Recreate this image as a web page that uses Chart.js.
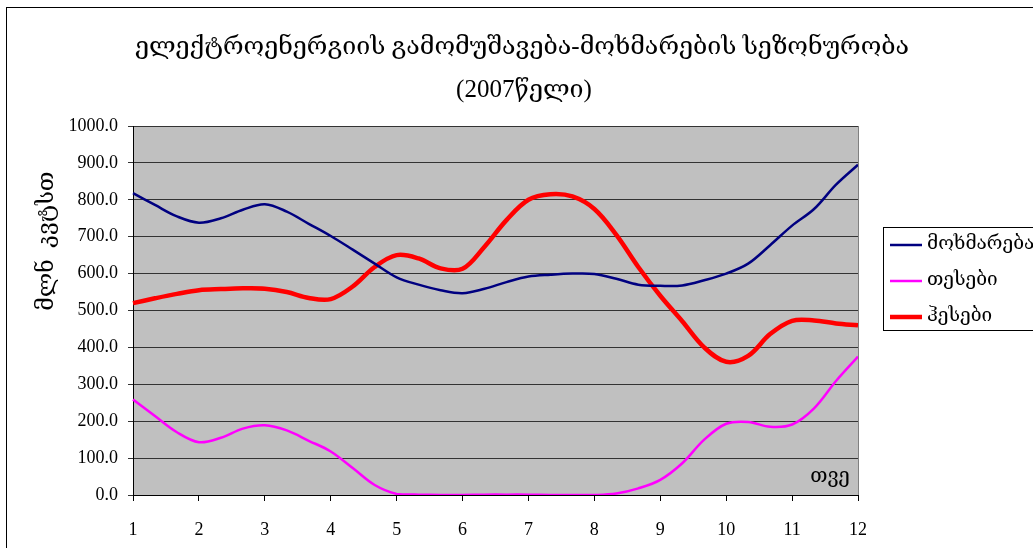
<!DOCTYPE html>
<html>
<head>
<meta charset="utf-8">
<script src="https://cdn.jsdelivr.net/npm/chart.js@4.4.0/dist/chart.umd.min.js"></script>
<style>
    html, body { margin: 0; padding: 0; background: #fff; overflow: hidden; }
    #wrap { position: relative; width: 1033px; height: 548px; }
    #frame { position: absolute; left: 6px; top: 7px; width: 1100px; height: 600px; border: 1px solid #000; box-sizing: border-box; }
    #chart { position: absolute; left: 0; top: 0; }
</style>
</head>
<body>
<div id="wrap">
    <div id="frame"></div>
    <canvas id="chart" width="1033" height="548"></canvas>
</div>
<script>
// თვეები (ღერძის წარწერები), მონაცემები ყოველ 1/3 თვეზე
const monthLabels = ['1', '2', '3', '4', '5', '6', '7', '8', '9', '10', '11', '12'];

// მოხმარება
const consumption = [818, 786, 755, 738, 750, 773, 788, 768, 735, 702, 665, 627, 590, 570, 555, 547, 559,
    577, 592, 597, 600, 599, 586, 570, 567, 568, 582, 600, 627, 677, 730, 775, 841, 895];
// თესები
const thermal = [259, 214, 170, 143, 155, 180, 189, 175, 147, 118, 73, 27, 3, 1, 0, 0, 1,
    1, 1, 0, 0, 0, 4, 18, 41, 86, 150, 193, 198, 185, 191, 235, 309, 375];
// ჰესები
const hydro = [520, 533, 545, 555, 558, 560, 559, 550, 534, 531, 565, 618, 650, 641, 614, 613, 673,
    745, 800, 815, 809, 775, 705, 618, 540, 471, 400, 361, 377, 436, 472, 473, 465, 460];

const seriesNames = ['მოხმარება', 'თესები', 'ჰესები'];
const titleLines = ['ელექტროენერგიის გამომუშავება-მოხმარების სეზონურობა', '(2007წელი)'];
const yAxisTitle = 'მლნ  კვტსთ';
const xAxisTitle = 'თვე';

const SERIF = "'Liberation Serif', 'DejaVu Serif', serif";

// კატეგორიები: თვის წარწერა, შემდეგ ორი ცარიელი შუალედი
const pointLabels = [];
monthLabels.forEach((m, i) => {
    pointLabels.push(m);
    if (i < monthLabels.length - 1) pointLabels.push('', '');
});

const decorPlugin = {
    id: 'decor',
    beforeDraw(chart) {
        const { ctx, chartArea: a } = chart;
        ctx.save();
        ctx.fillStyle = '#c0c0c0';
        ctx.fillRect(a.left, a.top, a.right - a.left, a.bottom - a.top);
        ctx.restore();
    },
    afterDraw(chart) {
        const { ctx, chartArea: a } = chart;
        ctx.save();

        // plot right edge
        ctx.strokeStyle = '#808080';
        ctx.lineWidth = 1;
        ctx.beginPath();
        ctx.moveTo(a.right + 0.5, a.top);
        ctx.lineTo(a.right + 0.5, a.bottom);
        ctx.stroke();

        // title
        ctx.fillStyle = '#000';
        ctx.textAlign = 'center';
        ctx.textBaseline = 'middle';
        ctx.font = '25px ' + SERIF;
        ctx.fillText(titleLines[0], 522, 47);
        ctx.fillText(titleLines[1], 524, 90);

        // y axis title
        ctx.save();
        ctx.translate(47, 241);
        ctx.rotate(-Math.PI / 2);
        ctx.font = '23px ' + SERIF;
        ctx.fillText(yAxisTitle, 0, 0);
        ctx.restore();

        // x axis title inside the plot
        ctx.font = '20px ' + SERIF;
        ctx.fillText(xAxisTitle, 830, 477);

        // legend
        ctx.strokeStyle = '#000';
        ctx.lineWidth = 1;
        ctx.strokeRect(883.5, 227.5, 200, 103);
        ctx.textAlign = 'left';
        ctx.font = '19px ' + SERIF;
        chart.data.datasets.forEach((ds, i) => {
            const y = 245 + i * 36;
            ctx.strokeStyle = ds.borderColor;
            ctx.lineWidth = ds.borderWidth;
            ctx.beginPath();
            ctx.moveTo(890, y);
            ctx.lineTo(922, y);
            ctx.stroke();
            ctx.fillStyle = '#000';
            ctx.fillText(ds.label, 927, y - 1);
        });

        ctx.restore();
    }
};

new Chart(document.getElementById('chart'), {
    type: 'line',
    data: {
        labels: pointLabels,
        datasets: [
            { label: seriesNames[0], data: consumption, borderColor: '#000080', borderWidth: 2.5 },
            { label: seriesNames[1], data: thermal, borderColor: '#ff00ff', borderWidth: 2.5 },
            { label: seriesNames[2], data: hydro, borderColor: '#ff0000', borderWidth: 4.5 }
        ]
    },
    options: {
        responsive: false,
        animation: false,
        events: [],
        layout: { padding: { top: 126, right: 175, left: 0, bottom: 0 } },
        elements: {
            point: { radius: 0 },
            line: { tension: 0.35, fill: false, capBezierPoints: true }
        },
        plugins: { legend: { display: false }, title: { display: false }, tooltip: { enabled: false } },
        scales: {
            x: {
                type: 'category',
                offset: false,
                border: { color: '#000', width: 1 },
                grid: {
                    drawOnChartArea: false,
                    drawTicks: true,
                    tickLength: 6,
                    color: (c) => (c.tick && (c.tick.label === '' || c.tick.label == null)) ? 'rgba(0,0,0,0)' : '#000'
                },
                ticks: {
                    autoSkip: false,
                    maxRotation: 0,
                    padding: 18,
                    color: '#000',
                    font: { family: SERIF, size: 18 },
                    callback(v) {
                        const l = this.getLabelForValue(v);
                        return l === '' ? null : l;
                    }
                },
                afterFit(s) { s.height = 53; }
            },
            y: {
                min: 0,
                max: 1000,
                border: { color: '#000', width: 1 },
                grid: { color: '#333', tickLength: 5, drawTicks: true },
                ticks: {
                    stepSize: 100,
                    padding: 10,
                    color: '#000',
                    font: { family: SERIF, size: 18 },
                    callback: (v) => v.toFixed(1)
                },
                afterFit(s) { s.width = 133; }
            }
        }
    },
    plugins: [decorPlugin]
});
</script>
</body>
</html>
